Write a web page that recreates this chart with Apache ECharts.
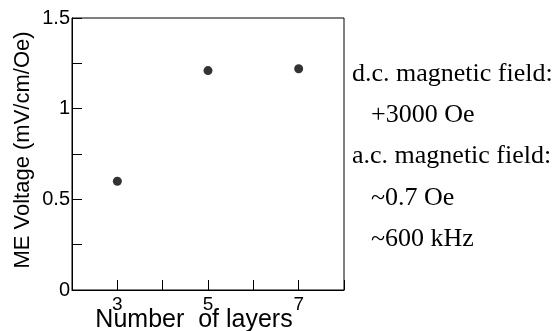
<!DOCTYPE html>
<html>
<head>
<meta charset="utf-8">
<script src="https://cdn.jsdelivr.net/npm/echarts@6/dist/echarts.min.js"></script>
<style>
html,body{margin:0;padding:0;background:#fff;}
#chart{width:559px;height:331px;}
</style>
</head>
<body>
<div id="chart"></div>
<script>
var layers = [3, 5, 7];
var meVoltage = [0.60, 1.21, 1.22];
var xTickLabels = [3, 5, 7];
var yTickLabels = [0, 0.5, 1, 1.5];
var xTitle = 'Number  of layers';
var yTitle = 'ME Voltage (mV/cm/Oe)';
var noteLines = ['d.c. magnetic field:', '+3000 Oe', 'a.c. magnetic field:', '~0.7 Oe', '~600 kHz'];
var noteIndent = [false, true, false, true, true];

var chart = echarts.init(document.getElementById('chart'), null, {renderer: 'canvas'});
var sans = '"Liberation Sans", Arial, sans-serif';
var serif = '"Liberation Serif", "Times New Roman", serif';
var baselines = [83, 124, 165, 207, 248];

var option = {
  animation: false,
  backgroundColor: '#fff',
  grid: {left: 72, right: 215, top: 18, bottom: 41, containLabel: false, outerBoundsMode: 'none',
         show: true, borderColor: '#000', borderWidth: 1, backgroundColor: 'transparent'},
  xAxis: {
    type: 'value', min: 2, max: 8, interval: 1,
    axisLine: {show: true, lineStyle: {color: '#000', width: 1}},
    axisTick: {show: true, inside: true, length: 10, lineStyle: {color: '#000'}},
    splitLine: {show: false},
    axisLabel: {
      margin: 5, fontFamily: sans, fontSize: 19, color: '#000',
      formatter: function (v) { return xTickLabels.indexOf(v) >= 0 ? String(v) : ''; }
    },
    name: xTitle, nameLocation: 'middle', nameGap: 18, nameMoveOverlap: false,
    nameTextStyle: {fontFamily: sans, fontSize: 25, color: '#000', padding: [0, 28, 0, 0]}
  },
  yAxis: {
    type: 'value', min: 0, max: 1.5, interval: 0.25,
    axisLine: {show: true, lineStyle: {color: '#000', width: 1}},
    axisTick: {show: true, inside: true, length: 10, lineStyle: {color: '#000'}},
    splitLine: {show: false},
    axisLabel: {
      margin: 2, fontFamily: sans, fontSize: 20, color: '#000',
      formatter: function (v) { return yTickLabels.indexOf(v) >= 0 ? String(v) : ''; }
    },
    name: yTitle, nameLocation: 'middle', nameGap: 38, nameRotate: 90, nameMoveOverlap: false,
    nameTextStyle: {fontFamily: sans, fontSize: 22, color: '#000', padding: [0, 0, 0, 8]}
  },
  series: [{
    type: 'scatter',
    data: layers.map(function (x, i) { return [x, meVoltage[i]]; }),
    symbol: 'circle', symbolSize: 9,
    itemStyle: {color: '#000'}
  }],
  graphic: noteLines.map(function (t, i) {
    return {
      type: 'text',
      left: noteIndent[i] ? 371 : 352,
      top: baselines[i] - 22,
      style: {text: t, font: '26px ' + serif, fill: '#000'}
    };
  })
};
chart.setOption(option);
</script>
</body>
</html>
